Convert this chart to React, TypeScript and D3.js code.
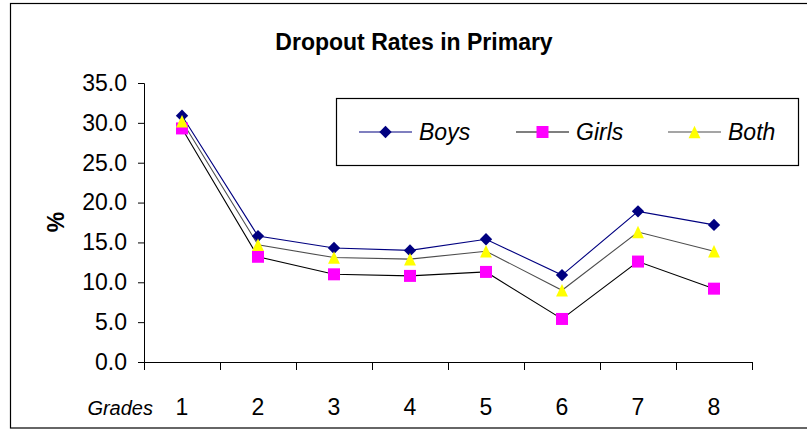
import React, { useEffect, useRef } from 'react';
import * as d3 from 'd3';

const grades = ['1', '2', '3', '4', '5', '6', '7', '8'];
const boys = [30.9, 15.8, 14.3, 14.0, 15.4, 10.9, 18.9, 17.2];
const girls = [29.3, 13.2, 11.0, 10.8, 11.3, 5.4, 12.6, 9.2];
const both = [30.2, 14.7, 13.1, 12.9, 13.9, 9.0, 16.3, 13.9];
const yTicks = [0, 5, 10, 15, 20, 25, 30, 35];

const W = 807;
const H = 429;
const FONT = '"Liberation Sans", Arial, sans-serif';

const series = [
  { name: 'Boys', values: boys, line: '#000080', fill: '#000080', symbol: 'diamond' },
  { name: 'Girls', values: girls, line: '#000000', fill: '#ff00ff', symbol: 'square' },
  { name: 'Both', values: both, line: '#4d4d4d', fill: '#ffff00', symbol: 'triangle' },
];

// excel-style triangle: centred on its bounding box, a bit taller than wide
const boxTriangle = {
  draw(ctx: any, size: number) {
    const h = Math.sqrt(size) / 2;
    ctx.moveTo(0, -h);
    ctx.lineTo(h * 0.95, h);
    ctx.lineTo(-h * 0.95, h);
    ctx.closePath();
  },
};

const markerPath = (kind: string) => {
  if (kind === 'diamond') return d3.symbol(d3.symbolSquare, 76)();
  if (kind === 'square') return d3.symbol(d3.symbolSquare, 144)();
  return d3.symbol(boxTriangle as any, 156)();
};

const App = () => {
  const svgRef = useRef<SVGSVGElement>(null);

  useEffect(() => {
    const svg = d3.select(svgRef.current);
    svg.selectAll('*').remove();

    const left = 144, right = 752, top = 83, bottom = 362;

    const x = d3.scaleBand().domain(grades).range([left, right]);
    const y = d3.scaleLinear().domain([0, 35]).range([bottom, top]);

    // outer frame
    svg.append('rect')
      .attr('x', 10.5).attr('y', 3.5)
      .attr('width', 810).attr('height', 424.5)
      .attr('fill', 'white').attr('stroke', '#000').attr('stroke-width', 1.2);

    svg.append('text')
      .attr('x', 414).attr('y', 50)
      .attr('text-anchor', 'middle')
      .attr('font-family', FONT).attr('font-weight', 'bold').attr('font-size', 23)
      .text('Dropout Rates in Primary');

    // y axis
    const yAxis = d3.axisLeft(y).tickValues(yTicks).tickSize(6).tickPadding(11)
      .tickFormat(d3.format('.1f'));
    const gy = svg.append('g').attr('transform', `translate(${left},0)`).call(yAxis);
    gy.select('.domain').attr('stroke', '#000');
    gy.selectAll('text').attr('font-family', FONT).attr('font-size', 23).attr('fill', '#000');

    // x axis: ticks between categories, labels centred
    const xEdges = d3.scaleLinear().domain([0, grades.length]).range([left, right]);
    const gx = svg.append('g').attr('transform', `translate(0,${bottom})`)
      .call(d3.axisBottom(xEdges).tickValues(d3.range(grades.length + 1)).tickSize(8).tickFormat(() => ''));
    gx.select('.domain').attr('stroke', '#000');

    svg.append('g').selectAll('text')
      .data(grades)
      .join('text')
      .attr('x', d => (x(d) as number) + x.bandwidth() / 2)
      .attr('y', 415)
      .attr('text-anchor', 'middle')
      .attr('font-family', FONT).attr('font-size', 23)
      .text(d => d);

    svg.append('text')
      .attr('x', 153).attr('y', 415)
      .attr('text-anchor', 'end')
      .attr('font-family', FONT).attr('font-style', 'italic').attr('font-size', 20)
      .text('Grades');

    svg.append('text')
      .attr('transform', 'translate(64,222) rotate(-90)')
      .attr('text-anchor', 'middle')
      .attr('font-family', FONT).attr('font-weight', 'bold').attr('font-size', 23)
      .text('%');

    // series
    const line = d3.line<number>()
      .x((_, i) => (x(grades[i]) as number) + x.bandwidth() / 2)
      .y(d => y(d));

    series.forEach(s => {
      svg.append('path')
        .attr('d', line(s.values))
        .attr('fill', 'none').attr('stroke', s.line).attr('stroke-width', 1.1);
    });
    series.forEach(s => {
      svg.append('g').selectAll('path')
        .data(s.values)
        .join('path')
        .attr('d', markerPath(s.symbol))
        .attr('transform', (d, i) => {
          const cx = (x(grades[i]) as number) + x.bandwidth() / 2;
          return `translate(${cx},${y(d)})` + (s.symbol === 'diamond' ? ' rotate(45)' : '');
        })
        .attr('fill', s.fill);
    });

    // legend
    const lg = svg.append('g');
    lg.append('rect')
      .attr('x', 336.5).attr('y', 98.5).attr('width', 462).attr('height', 67)
      .attr('fill', 'white').attr('stroke', '#000').attr('stroke-width', 1.2);
    const legendX = [359, 516, 668];
    series.forEach((s, i) => {
      const lx = legendX[i];
      lg.append('line')
        .attr('x1', lx).attr('x2', lx + 53).attr('y1', 132).attr('y2', 132)
        .attr('stroke', s.line).attr('stroke-width', 1.1);
      lg.append('path')
        .attr('d', markerPath(s.symbol))
        .attr('transform', `translate(${lx + 26.5},132)` + (s.symbol === 'diamond' ? ' rotate(45)' : ''))
        .attr('fill', s.fill);
      lg.append('text')
        .attr('x', lx + 60).attr('y', 140)
        .attr('font-family', FONT).attr('font-style', 'italic').attr('font-size', 23)
        .text(s.name);
    });
  }, []);

  return (
    <svg
      ref={svgRef}
      width={W}
      height={H}
      style={{ position: 'absolute', left: 0, top: 0, background: 'white' }}
    />
  );
};

export default App;
